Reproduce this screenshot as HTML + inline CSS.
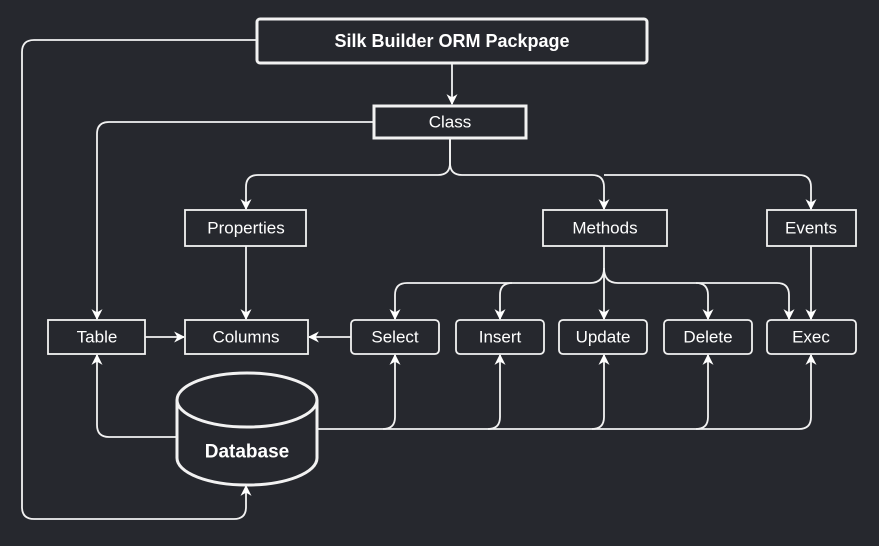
<!DOCTYPE html>
<html><head><style>
html,body{margin:0;padding:0;background:#26282e;}
svg{display:block}
text{font-family:"Liberation Sans",Arial,sans-serif;fill:#fff;text-anchor:middle;dominant-baseline:central}
</style></head><body>
<svg width="879" height="546" viewBox="0 0 879 546" xmlns="http://www.w3.org/2000/svg">
<defs>
<marker id="a" viewBox="0 0 10 10" refX="9" refY="5" markerWidth="13" markerHeight="11" orient="auto-start-reverse" markerUnits="userSpaceOnUse">
<path d="M0,0 L10,5 L0,10 L3,5 Z" fill="#fff"/>
</marker>
</defs>
<rect width="879" height="546" fill="#26282e"/>
<g fill="none" stroke="#f2f2f2" stroke-width="1.8">
<path d="M452,63 V104" marker-end="url(#a)"/>
<path d="M256,40 H34 Q22,40 22,52 V507 Q22,519 34,519 H234 Q246,519 246,507 V486" marker-end="url(#a)"/>
<path d="M373,122 H109 Q97,122 97,134 V319" marker-end="url(#a)"/>
<path d="M450,139 V163 Q450,175 438,175 H258 Q246,175 246,187 V209" marker-end="url(#a)"/>
<path d="M450,139 V163 Q450,175 462,175 H592 Q604,175 604,187 V209" marker-end="url(#a)"/>
<path d="M604,175 H799 Q811,175 811,187 V209" marker-end="url(#a)"/>
<path d="M246,246 V319" marker-end="url(#a)"/>
<path d="M145,337 H184" marker-end="url(#a)"/>
<path d="M351,337 H309" marker-end="url(#a)"/>
<path d="M811,246 V319" marker-end="url(#a)"/>
<path d="M604,246 V319" marker-end="url(#a)"/>
<path d="M604,268 Q604,283 590,283 H407 Q395,283 395,295 V319" marker-end="url(#a)"/>
<path d="M512,283 Q500,283 500,295 V319" marker-end="url(#a)"/>
<path d="M604,268 Q604,283 618,283 H696 Q708,283 708,295 V319" marker-end="url(#a)"/>
<path d="M696,283 H777 Q789,283 789,295 V319" marker-end="url(#a)"/>
<path d="M317,429 H383 Q395,429 395,417 V355" marker-end="url(#a)"/>
<path d="M383,429 H488 Q500,429 500,417 V355" marker-end="url(#a)"/>
<path d="M488,429 H592 Q604,429 604,417 V355" marker-end="url(#a)"/>
<path d="M592,429 H696 Q708,429 708,417 V355" marker-end="url(#a)"/>
<path d="M696,429 H799 Q811,429 811,417 V355" marker-end="url(#a)"/>
<path d="M177,437 H109 Q97,437 97,425 V355" marker-end="url(#a)"/>
</g>
<g fill="#26282e" stroke="#f2f2f2">
<rect x="257" y="19" width="390" height="44" rx="3" stroke-width="3"/>
<rect x="374" y="106" width="152" height="32" stroke-width="3"/>
<rect x="185" y="210" width="121" height="36" stroke-width="1.8"/>
<rect x="543" y="210" width="124" height="36" stroke-width="1.8"/>
<rect x="767" y="210" width="89" height="36" stroke-width="1.8"/>
<rect x="48" y="320" width="97" height="34" stroke-width="1.8"/>
<rect x="185" y="320" width="123" height="34" stroke-width="1.8"/>
<rect x="351" y="320" width="88" height="34" rx="4" stroke-width="1.8"/>
<rect x="456" y="320" width="88" height="34" rx="4" stroke-width="1.8"/>
<rect x="559" y="320" width="88" height="34" rx="4" stroke-width="1.8"/>
<rect x="664" y="320" width="88" height="34" rx="4" stroke-width="1.8"/>
<rect x="767" y="320" width="89" height="34" rx="4" stroke-width="1.8"/>
<path d="M177,400 V458 A70,27 0 0 0 317,458 V400 A70,27 0 0 0 177,400 Z" stroke-width="3"/>
<path d="M177,400 A70,27 0 0 0 317,400" fill="none" stroke-width="3"/>
</g>
<text x="452" y="41" font-size="18" font-weight="bold">Silk Builder ORM Packpage</text>
<text x="450" y="122" font-size="17">Class</text>
<text x="246" y="228" font-size="17">Properties</text>
<text x="605" y="228" font-size="17">Methods</text>
<text x="811" y="228" font-size="17">Events</text>
<text x="97" y="337" font-size="17">Table</text>
<text x="246" y="337" font-size="17">Columns</text>
<text x="395" y="337" font-size="17">Select</text>
<text x="500" y="337" font-size="17">Insert</text>
<text x="603" y="337" font-size="17">Update</text>
<text x="708" y="337" font-size="17">Delete</text>
<text x="811" y="337" font-size="17">Exec</text>
<text x="247" y="452" font-size="19" font-weight="bold">Database</text>
</svg>
</body></html>
